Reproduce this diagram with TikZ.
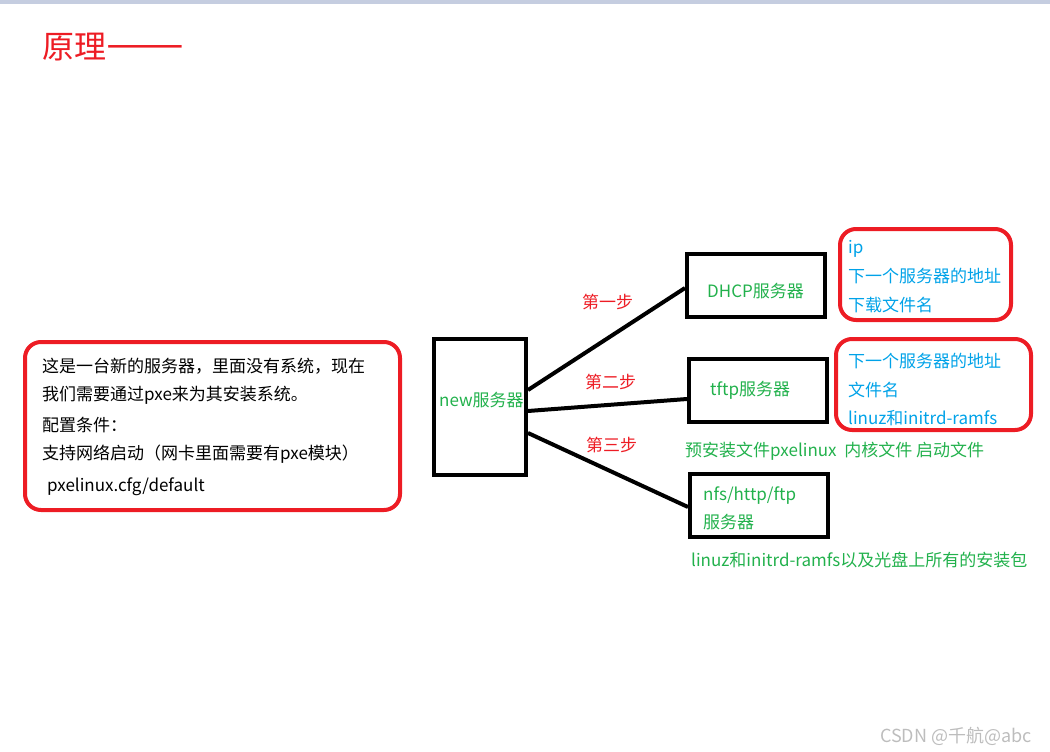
\documentclass[tikz,border=0pt]{standalone}
\usepackage{fontspec}
\usepackage{graphicx}
\setmainfont{Noto Sans CJK SC}
\definecolor{pred}{HTML}{ED1C24}
\definecolor{pgreen}{HTML}{22B14C}
\definecolor{pblue}{HTML}{00A2E8}
\definecolor{barcol}{HTML}{C5CDE0}
\definecolor{wmark}{HTML}{BDBDBD}
\begin{document}
\begin{tikzpicture}[x=1pt,y=-1pt,
  txt/.style={font=\fontsize{17}{20}\selectfont, inner sep=0pt, anchor=west, text height=15pt, text depth=2pt},
  blktxt/.style={txt, text=black},
  grntxt/.style={txt, text=pgreen},
  bluetxt/.style={txt, text=pblue},
  steptxt/.style={txt, text=pred},
  blackbox/.style={draw=black, line width=4pt, inner sep=0pt},
  redbox/.style={draw=pred, line width=4pt, rounded corners=16pt, inner sep=0pt},
  link/.style={draw=black, line width=4pt}]
\useasboundingbox (0,0) rectangle (1050,752);
\fill[barcol] (0,0) rectangle (1050,4);

% title
\node[txt, font=\fontsize{32}{36}\selectfont, text=pred, text height=28pt, text depth=4pt] (title) at (42,47) {原理\scalebox{1.45}[1.3]{——}};

% left info box
\node[redbox, minimum width=375pt, minimum height=168pt] (info) at (212.5,426) {};
\node[blktxt] (l1) at (42,366) {这是一台新的服务器，里面没有系统，现在};
\node[blktxt] (l2) at (42,394) {我们需要通过pxe来为其安装系统。};
\node[blktxt] (l3) at (42,425) {配置条件：};
\node[blktxt] (l4) at (42,453) {支持网络启动（网卡里面需要有pxe模块）};
\node[blktxt] (l5) at (47,485) {pxelinux.cfg/default};

% boxes
\node[blackbox, minimum width=92pt, minimum height=136pt] (new) at (480,407) {};
\node[grntxt] (newt) at (439,400) {new服务器};
\node[blackbox, minimum width=138pt, minimum height=63pt] (dhcp) at (756,285.5) {};
\node[grntxt] (dhcpt) at (707,291) {DHCP服务器};
\node[blackbox, minimum width=138pt, minimum height=63pt] (tftp) at (758,390.5) {};
\node[grntxt] (tftpt) at (710,389) {tftp服务器};
\node[blackbox, minimum width=138pt, minimum height=63pt] (nfs) at (759,505.5) {};
\node[grntxt] (nfst1) at (703,494) {nfs/http/ftp};
\node[grntxt] (nfst2) at (703,522) {服务器};

% connectors
\draw[link] ([yshift=17pt]new.east) -- ([yshift=-2.5pt]dhcp.west);
\draw[link] ([yshift=-4pt]new.east) -- ([yshift=-8.5pt]tftp.west);
\draw[link] ([yshift=-26pt]new.east) -- ([yshift=-1.5pt]nfs.west);

% step labels
\node[steptxt] (s1) at (582,302) {第一步};
\node[steptxt] (s2) at (585,382) {第二步};
\node[steptxt] (s3) at (586,445) {第三步};

% right red boxes
\node[redbox, minimum width=171pt, minimum height=91pt] (r1) at (925.5,274.5) {};
\node[bluetxt] (r1a) at (848,247) {ip};
\node[bluetxt] (r1b) at (848,276) {下一个服务器的地址};
\node[bluetxt] (r1c) at (848,305) {下载文件名};
\node[redbox, minimum width=195pt, minimum height=91pt] (r2) at (933.5,384.5) {};
\node[bluetxt] (r2a) at (848,361) {下一个服务器的地址};
\node[bluetxt] (r2b) at (848,390) {文件名};
\node[bluetxt] (r2c) at (848,418) {linuz和initrd-ramfs};

% green notes
\node[grntxt] (g1) at (685,450) {预安装文件pxelinux\ \ 内核文件 启动文件};
\node[grntxt] (g2) at (691,560) {linuz和initrd-ramfs以及光盘上所有的安装包};

% watermark
\node[txt, font=\fontsize{18}{21}\selectfont, text=wmark, text height=16pt, text depth=2pt] (wm) at (880,735) {CSDN @千航@abc};
\end{tikzpicture}
\end{document}
